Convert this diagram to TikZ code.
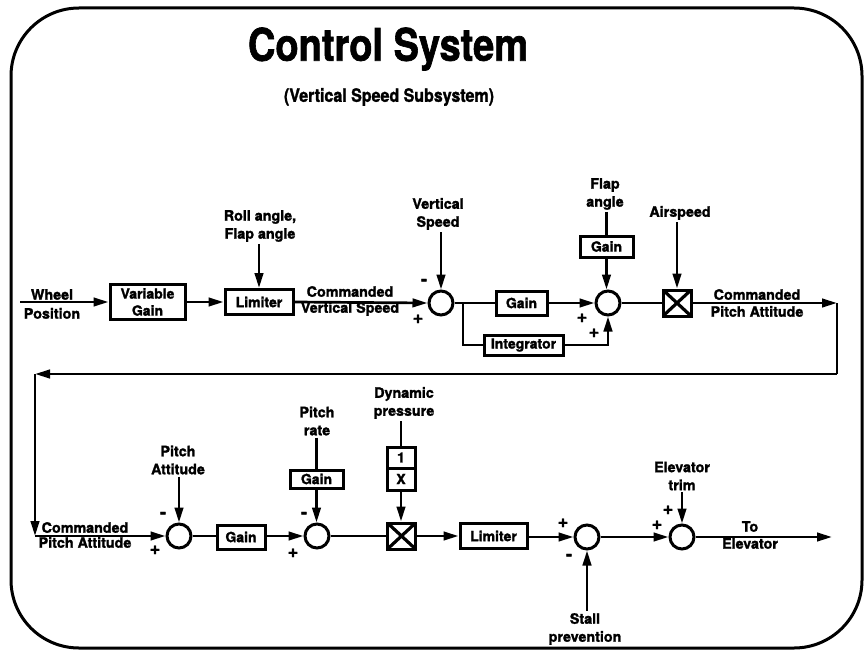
\documentclass[tikz,border=0pt]{standalone}
\usepackage{fontspec}
\setmainfont{TeX Gyre Heros}[BoldFeatures={FakeBold=1.6}]
\usetikzlibrary{arrows.meta,calc}
\begin{document}
\begin{tikzpicture}[x=1pt,y=-1pt,
  lbl/.style={font=\fontsize{14.3}{18}\selectfont\bfseries, align=center, inner sep=2pt},
  sgn/.style={font=\fontsize{18}{18}\selectfont\bfseries, inner sep=0pt},
  blk/.style={draw, line width=3pt, font=\fontsize{14}{16}\selectfont\bfseries, align=center, inner sep=0pt},
  sumc/.style={draw, circle, line width=3pt, minimum size=24pt, inner sep=0pt},
  mult/.style={draw, line width=3pt, minimum width=28pt, minimum height=26pt, inner sep=0pt,
    path picture={\draw[line width=3.2pt] (path picture bounding box.north west) -- (path picture bounding box.south east)
      (path picture bounding box.north east) -- (path picture bounding box.south west);}},
  arr/.style={line width=2.7pt, -{Triangle[length=15pt,width=8.5pt]}},
  ln/.style={line width=2.7pt}
]
\useasboundingbox (0,0) rectangle (864,650);
\fill[white] (0,0) rectangle (864,650);
% frame
\draw[line width=3pt, rounded corners=68pt] (11,8) rectangle (862,648);

% title
\node (title) at (388,49) {\scalebox{1}[1.18]{\fontsize{38}{40}\selectfont\bfseries Control System}};
\node (subtitle) at (389,97) {\scalebox{1}[1.15]{\fontsize{16}{18}\selectfont\bfseries (Vertical Speed Subsystem)}};

% ---------- top row ----------
\coordinate (start) at (20,302);
\node[lbl] (wheel) at (52,304) {Wheel\\[1pt]Position};
\node[blk, minimum width=75pt, minimum height=35pt, font=\fontsize{14}{17}\selectfont\bfseries] (vgain) at (147.5,302) {Variable\\Gain};
\node[blk, minimum width=68pt, minimum height=25pt] (lim1) at (259,302) {Limiter};
\node[lbl] (roll) at (260,226) {Roll angle,\\Flap angle};
\node[lbl, font=\fontsize{14.3}{16}\selectfont\bfseries] (cmdvs) at (350,301) {Commanded\\Vertical Speed};
\node[sumc] (s1) at (441,303) {};
\node[lbl] (vspeed) at (438,214) {Vertical\\Speed};
\node[blk, minimum width=51pt, minimum height=24pt] (g1) at (521.5,303) {Gain};
\node[blk, minimum width=79pt, minimum height=20pt] (integ) at (523.5,345) {Integrator};
\coordinate (b1) at (463,303);
\node[sumc] (s2) at (608,303) {};
\node[lbl] (flap) at (605,194) {Flap\\angle};
\node[blk, minimum width=53pt, minimum height=21pt] (gflap) at (606.5,246.5) {Gain};
\node[mult] (m1) at (677,303) {};
\node[lbl] (airspeed) at (680,213) {Airspeed};
\node[lbl, font=\fontsize{14.3}{17}\selectfont\bfseries] (cmdpa1) at (757,303) {Commanded\\Pitch Attitude};
\coordinate (c1) at (837,303);
\coordinate (c2) at (837,374);
\coordinate (c3) at (35,374);
\coordinate (c4) at (35,536);

\node[sgn] at (424,282) {-};
\node[sgn] at (418,319) {+};
\node[sgn] at (582,318) {+};
\node[sgn] at (594,333) {+};

\draw[arr] (start) -- (vgain.west);
\draw[arr] (vgain.east) -- (lim1.west |- vgain.east);
\draw[arr] (roll.south -| lim1.north) -- (lim1.north);
\draw[arr] (lim1.east) -- (s1.west);
\draw[arr] (vspeed.south -| s1.north) -- (s1.north);
\draw[ln] (s1.east) -- (g1.west);
\draw[ln] (b1) |- (integ.west);
\draw[arr] (g1.east) -- (s2.west);
\draw[arr] (integ.east) -| (s2.south);
\draw[ln] (flap.south -| gflap.north) -- (gflap.north);
\draw[arr] (gflap.south) -- (s2.north -| gflap.south);
\draw[ln] (s2.east) -- (m1.west);
\draw[arr] (airspeed.south -| m1.north) -- (m1.north);
\draw[arr] (m1.east) -- (c1);
\draw[ln] (c1) -- (c2);
\draw[arr] (c2) -- (c3);
\draw[arr] (c3) -- (c4);

% ---------- bottom row ----------
\node[lbl, font=\fontsize{14.3}{15}\selectfont\bfseries] (cmdpa2) at (85,535) {Commanded\\Pitch Attitude};
\node[sumc] (s3) at (179,536) {};
\node[lbl] (pitchatt) at (178,460) {Pitch\\Attitude};
\node[blk, minimum width=48pt, minimum height=24pt] (g2) at (241,537) {Gain};
\node[sumc] (s4) at (317,536) {};
\node[lbl] (pitchrate) at (317,421) {Pitch\\rate};
\node[blk, minimum width=53pt, minimum height=18pt] (grate) at (316.5,479) {Gain};
\node[mult] (m2) at (401.5,536) {};
\node[lbl] (dynp) at (404,403) {Dynamic\\pressure};
\node[blk, outer sep=0pt, minimum width=28pt, minimum height=21pt] (r1) at (401,457.5) {1};
\node[blk, outer sep=0pt, minimum width=28pt, minimum height=22pt, anchor=north] (r2) at (r1.south) {X};
\node[blk, minimum width=67pt, minimum height=25pt] (lim2) at (493.5,536) {Limiter};
\node[sumc] (s5) at (587,537) {};
\node[lbl] (stall) at (585,629) {Stall\\prevention};
\node[sumc] (s6) at (682,537) {};
\node[lbl] (elev) at (682,476) {Elevator\\trim};
\node[lbl, font=\fontsize{14.3}{17}\selectfont\bfseries] (toelev) at (750,535) {To\\Elevator};
\coordinate (out) at (832,537);

\node[sgn] at (163,515) {-};
\node[sgn] at (155,550) {+};
\node[sgn] at (304,515) {-};
\node[sgn] at (293,553) {+};
\node[sgn] at (563,523) {+};
\node[sgn] at (569,557) {-};
\node[sgn] at (657,525) {+};
\node[sgn] at (668,510) {+};

\draw[arr] (c4) -- (s3.west);
\draw[arr] (pitchatt.south -| s3.north) -- (s3.north);
\draw[ln] (s3.east) -- (g2.west |- s3.east);
\draw[arr] (g2.east |- s4.west) -- (s4.west);
\draw[ln] (pitchrate.south -| grate.north) -- (grate.north);
\draw[arr] (grate.south) -- (s4.north -| grate.south);
\draw[ln] (s4.east) -- (m2.west |- s4.east);
\draw[ln] (dynp.south -| r1.north) -- (r1.north);
\draw[arr] (r2.south) -- (m2.north -| r2.south);
\draw[arr] (m2.east) -- (lim2.west |- m2.east);
\draw[arr] (lim2.east |- s5.west) -- (s5.west);
\draw[arr] (stall.north -| s5.south) -- (s5.south);
\draw[arr] (s5.east) -- (s6.west);
\draw[arr] (elev.south -| s6.north) -- (s6.north);
\draw[arr] (s6.east) -- (out);
\end{tikzpicture}
\end{document}
